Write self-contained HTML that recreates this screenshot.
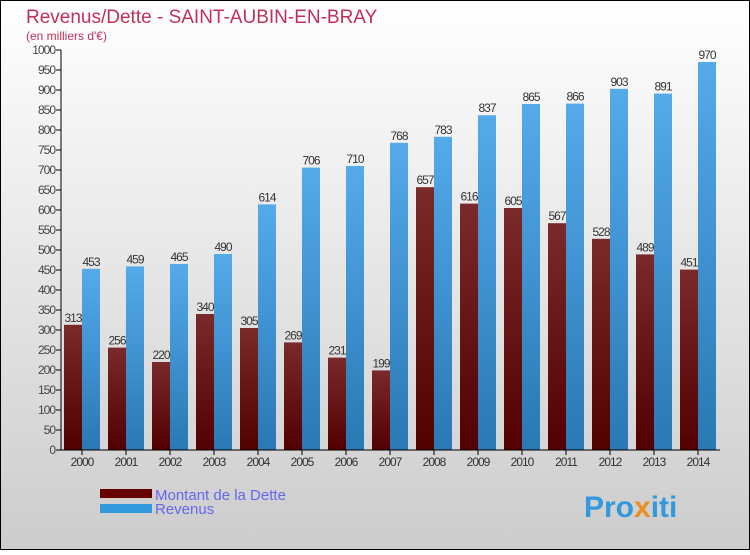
<!DOCTYPE html>
<html><head><meta charset="utf-8"><style>
body{margin:0}
#c{width:750px;height:550px;position:relative;font-family:"Liberation Sans",sans-serif}
</style></head><body>
<div id="c">
<svg width="750" height="550" id="svg">
<defs>
<linearGradient id="bg" x1="0" y1="0" x2="0" y2="1"><stop offset="0" stop-color="#ffffff"/><stop offset="1" stop-color="#cccccc"/></linearGradient>
<linearGradient id="gd" x1="0" y1="0" x2="0" y2="1"><stop offset="0" stop-color="#7a2a2a"/><stop offset="1" stop-color="#520000"/></linearGradient>
<linearGradient id="gr" x1="0" y1="0" x2="0" y2="1"><stop offset="0" stop-color="#55aaea"/><stop offset="1" stop-color="#2a78b4"/></linearGradient>
</defs>
<rect x="0.5" y="0.5" width="749" height="549" fill="url(#bg)" stroke="#000"/>
<text x="26" y="23" font-size="19" fill="#c0305a">Revenus/Dette - SAINT-AUBIN-EN-BRAY</text>
<text x="26" y="40" font-size="12" fill="#c0305a">(en milliers d'€)</text>
<g id="plot"></g>
<rect x="100" y="489" width="52" height="9" fill="#660000"/>
<rect x="100" y="504" width="52" height="9" fill="#3399dd"/>
<text x="155" y="500" font-size="15" fill="#6666ee">Montant de la Dette</text>
<text x="155" y="514" font-size="15" fill="#6666ee">Revenus</text>
<text x="584" y="517" font-size="30" font-weight="bold" fill="#3399dd">Pro<tspan fill="#e89020">x</tspan>iti</text>
</svg>
</div>
<script>
const years=["2000","2001","2002","2003","2004","2005","2006","2007","2008","2009","2010","2011","2012","2013","2014"];
const dette=[313,256,220,340,305,269,231,199,657,616,605,567,528,489,451];
const revenus=[453,459,465,490,614,706,710,768,783,837,865,866,903,891,970];
const ticks=[0,50,100,150,200,250,300,350,400,450,500,550,600,650,700,750,800,850,900,950,1000];
const NS="http://www.w3.org/2000/svg";
const g=document.getElementById('plot');
const y=v=>450-v*0.4;
const xc=i=>82+i*44;
function mk(t,a,txt){const e=document.createElementNS(NS,t);for(const k in a)e.setAttribute(k,a[k]);if(txt!==undefined)e.textContent=txt;g.appendChild(e);return e;}
ticks.forEach(t=>{
 const l=mk('line',{x1:56,x2:61,y1:y(t),y2:y(t),stroke:'#000'});
 
 
 const tx=mk('text',{x:55,y:y(t)+4,'font-size':12,'text-anchor':'end',fill:'#444','letter-spacing':'-1'},t);
 
 
});
years.forEach((yr,i)=>{
 const d=mk('rect',{x:xc(i)-18,y:y(dette[i]),width:18,height:dette[i]*0.4,fill:'url(#gd)'});
 
 
 const r=mk('rect',{x:xc(i),y:y(revenus[i]),width:18,height:revenus[i]*0.4,fill:'url(#gr)'});
 
 
 const dl=mk('text',{x:xc(i)-9,y:y(dette[i])-3,'font-size':12,'text-anchor':'middle',fill:'#333','letter-spacing':'-1'},dette[i]);
 
 
 const rl=mk('text',{x:xc(i)+9,y:y(revenus[i])-3,'font-size':12,'text-anchor':'middle',fill:'#333','letter-spacing':'-1'},revenus[i]);
 
 
 const tk=mk('line',{x1:xc(i),x2:xc(i),y1:450,y2:455,stroke:'#000'});
 
 
 const xl=mk('text',{x:xc(i),y:466,'font-size':12,'text-anchor':'middle',fill:'#333','letter-spacing':'-1'},yr);
 
 
});
const ya=mk('line',{x1:61,x2:61,y1:50,y2:450,stroke:'#000'});


const xa=mk('line',{x1:61,x2:720,y1:450,y2:450,stroke:'#000'});


</script>
</body></html>
